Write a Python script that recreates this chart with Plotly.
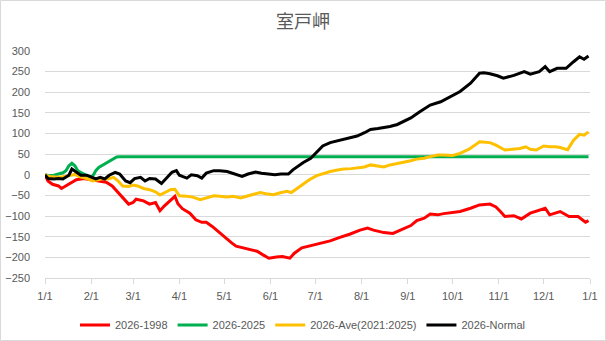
import pandas as pd
import plotly.graph_objects as go

# Cumulative differences at 室戸岬, sampled by day-of-year offset from 2026-01-01
red_days = [0, 2, 5, 9, 11, 14, 18, 21, 26, 32, 37, 41, 45, 50, 54, 56, 59, 61, 66, 70, 74, 77, 80,
            85, 87, 89, 92, 97, 101, 105, 108, 112, 117, 121, 125, 128, 133, 137, 142, 146, 150, 155,
            159, 164, 167, 172, 177, 184, 191, 197, 204, 211, 216, 220, 227, 233, 240, 245, 249, 254,
            258, 263, 267, 272, 278, 285, 291, 298, 302, 305, 308, 314, 319, 325, 331, 335, 338, 345,
            351, 357, 362, 364]
red_vals = [0, -15, -23, -27, -33, -27, -18, -12, -9, -12, -15, -18, -27, -47, -63, -71, -67, -59, -63,
            -71, -67, -87, -75, -57, -52, -70, -82, -93, -109, -115, -115, -125, -141, -153, -165, -173,
            -177, -180, -185, -194, -202, -199, -198, -202, -190, -177, -173, -167, -160, -152, -144,
            -134, -129, -134, -140, -142, -131, -123, -111, -105, -95, -97, -94, -91, -89, -81, -73,
            -71, -78, -89, -101, -99, -107, -93, -86, -81, -97, -89, -101, -101, -115, -111]

green_days = [0, 3, 6, 9, 12, 14, 16, 18, 20, 22, 24, 26, 28, 30, 32, 34, 36, 38, 40, 42, 44, 46, 48,
              50, 364]
green_vals = [0, -2, -1, 2, 5, 10, 22, 28, 22, 10, 5, 2, -2, -5, -3, 10, 18, 22, 28, 32, 36, 40, 43,
              44, 44]

yellow_days = [0, 3, 7, 10, 13, 17, 20, 23, 28, 32, 36, 39, 42, 46, 49, 52, 56, 59, 62, 66, 70, 74, 77,
               80, 84, 87, 90, 95, 99, 104, 108, 113, 117, 122, 126, 131, 135, 140, 144, 148, 153, 157,
               162, 165, 169, 173, 177, 182, 186, 191, 195, 200, 205, 209, 214, 218, 222, 227, 231,
               236, 240, 245, 249, 254, 258, 263, 267, 273, 278, 284, 288, 291, 295, 298, 302, 305,
               308, 313, 318, 322, 325, 329, 332, 334, 338, 342, 345, 350, 354, 358, 361, 364]
yellow_vals = [0, -4, -5, -6, -4, -1, 1, -4, -9, -15, -12, -9, -10, -6, -15, -27, -28, -25, -27, -33,
               -36, -41, -49, -43, -36, -35, -51, -52, -54, -60, -56, -51, -52, -54, -52, -56, -52, -46,
               -43, -46, -48, -44, -40, -43, -32, -22, -12, -2, 3, 8, 11, 14, 15, 16, 19, 24, 22, 19,
               24, 27, 30, 34, 38, 40, 44, 48, 48, 47, 52, 62, 72, 80, 79, 78, 72, 65, 60, 62, 64, 68,
               62, 60, 66, 70, 68, 68, 66, 61, 84, 98, 96, 104]

black_days = [0, 2, 6, 9, 12, 16, 18, 21, 24, 28, 31, 34, 37, 40, 43, 47, 50, 54, 57, 60, 64, 67, 70,
              74, 78, 81, 85, 88, 90, 92, 95, 98, 102, 105, 108, 113, 117, 122, 125, 128, 132, 136,
              141, 145, 150, 154, 158, 163, 166, 170, 173, 178, 182, 186, 191, 196, 200, 205, 209,
              214, 218, 223, 227, 231, 236, 240, 245, 251, 258, 265, 271, 278, 285, 291, 294, 298,
              303, 307, 314, 321, 325, 331, 335, 338, 343, 349, 354, 358, 361, 364]
black_vals = [0, -9, -10, -9, -10, -1, 14, 6, -1, -1, -6, -10, -6, -10, -1, 6, 2, -15, -19, -9, -6,
              -15, -9, -10, -21, -9, 6, 10, -1, -4, -8, 0, -2, -8, 4, 10, 10, 8, 4, 0, -4, 2, 7, 4, 2,
              0, 2, 2, 12, 22, 30, 40, 56, 70, 78, 82, 86, 90, 94, 102, 110, 112, 114, 117, 122, 130,
              138, 153, 169, 177, 188, 202, 222, 246, 247, 245, 240, 234, 241, 250, 244, 250, 262,
              250, 258, 258, 274, 286, 280, 288]

series_names = ["2026-1998", "2026-2025", "2026-Ave(2021:2025)", "2026-Normal"]
series_colors = ["#FF0000", "#00B050", "#FFC000", "#000000"]

base = pd.Timestamp("2026-01-01")


def to_dates(days):
    return base + pd.to_timedelta(days, unit="D")


fig = go.Figure()
for name, color, days, vals in zip(
    series_names,
    series_colors,
    [red_days, green_days, yellow_days, black_days],
    [red_vals, green_vals, yellow_vals, black_vals],
):
    fig.add_trace(go.Scatter(
        x=to_dates(days), y=vals, mode="lines", name=name,
        line=dict(color=color, width=3),
    ))

W, H = 606, 341
ML, MR, MT, MB = 45, 16, 51, 63
grey_text = "#595959"
grid = "#D9D9D9"
font_main = "Liberation Sans"

fig.update_layout(
    width=W, height=H,
    margin=dict(l=ML, r=MR, t=MT, b=MB, autoexpand=False),
    paper_bgcolor="white", plot_bgcolor="white",
    font=dict(family=font_main, size=11, color=grey_text),
    title=dict(text="室戸岬", x=0.5, xanchor="center", y=1 - 22 / H, yanchor="middle",
               font=dict(family="Noto Sans CJK JP", size=18, color=grey_text)),
    showlegend=True,
    legend=dict(orientation="h", x=0.5, xanchor="center", xref="container",
                y=1 - 325 / H, yanchor="middle", yref="container",
                font=dict(size=11, color=grey_text), itemwidth=30,
                traceorder="normal"),
    xaxis=dict(
        type="date",
        range=[base, pd.Timestamp("2027-01-01")],
        dtick="M1", tick0=base, tickformat="%-m/%-d",
        showgrid=False, showline=True, linecolor=grid, linewidth=1,
        ticks="outside", ticklen=5, tickcolor=grid, ticklabelstandoff=3,
        zeroline=False, fixedrange=True, automargin=False,
    ),
    yaxis=dict(
        range=[-250, 300], dtick=50, tick0=0,
        showgrid=True, gridcolor=grid, gridwidth=1,
        zeroline=False, showline=False, ticks="",
        ticklabelstandoff=14, fixedrange=True, automargin=False,
    ),
    shapes=[dict(
        type="rect", xref="paper", yref="paper",
        x0=-(ML - 0.5) / (W - ML - MR), x1=1 + (MR - 0.5) / (W - ML - MR),
        y0=-(MB - 0.5) / (H - MT - MB), y1=1 + (MT - 0.5) / (H - MT - MB),
        line=dict(color=grid, width=1), fillcolor="rgba(0,0,0,0)", layer="below",
    )],
)

fig.write_html("out.html")
